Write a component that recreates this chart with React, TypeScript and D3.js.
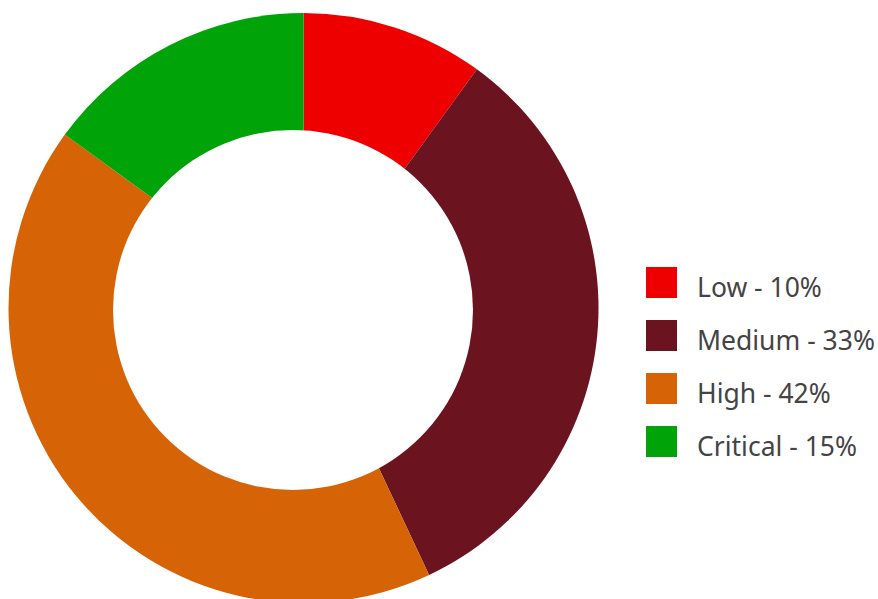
import React from "react";
import * as d3 from "d3";

const categories = ["Low", "Medium", "High", "Critical"];
const values = [10, 33, 42, 15];
const colors = ["#ef0000", "#6b1420", "#d66406", "#00a308"];

const W = 878;
const H = 599;
const cx = 303.5;
const cy = 308;
const outerR = 295;
const holeCx = 293;
const holeCy = 310;
const holeR = 180;

export default function App() {
  const pie = d3.pie<number>().sort(null).value((d) => d)(values);
  const arc = d3.arc<d3.PieArcDatum<number>>().innerRadius(0).outerRadius(outerR);
  const total = d3.sum(values);
  const legendY = d3.scaleBand<number>().domain(d3.range(categories.length)).range([267, 267 + 53 * 4]);
  return (
    <svg width={W} height={H} style={{ position: "absolute", left: 0, top: 0 }}>
      <g transform={`translate(${cx},${cy})`}>
        {pie.map((p, i) => (
          <path key={i} d={arc(p) || ""} fill={colors[i]} />
        ))}
      </g>
      <circle cx={holeCx} cy={holeCy} r={holeR} fill="#ffffff" />
      <g>
        {categories.map((c, i) => {
          const y = legendY(i) as number;
          return (
            <g key={c}>
              <rect x={646} y={y} width={31} height={31} fill={colors[i]} />
              <text
                x={697}
                y={y + 29.5}
                fill="#444444"
                fontFamily="'Noto Sans', 'Open Sans', sans-serif"
                fontSize={26.5}
              >
                {`${c} - ${Math.round((values[i] / total) * 100)}%`}
              </text>
            </g>
          );
        })}
      </g>
    </svg>
  );
}
